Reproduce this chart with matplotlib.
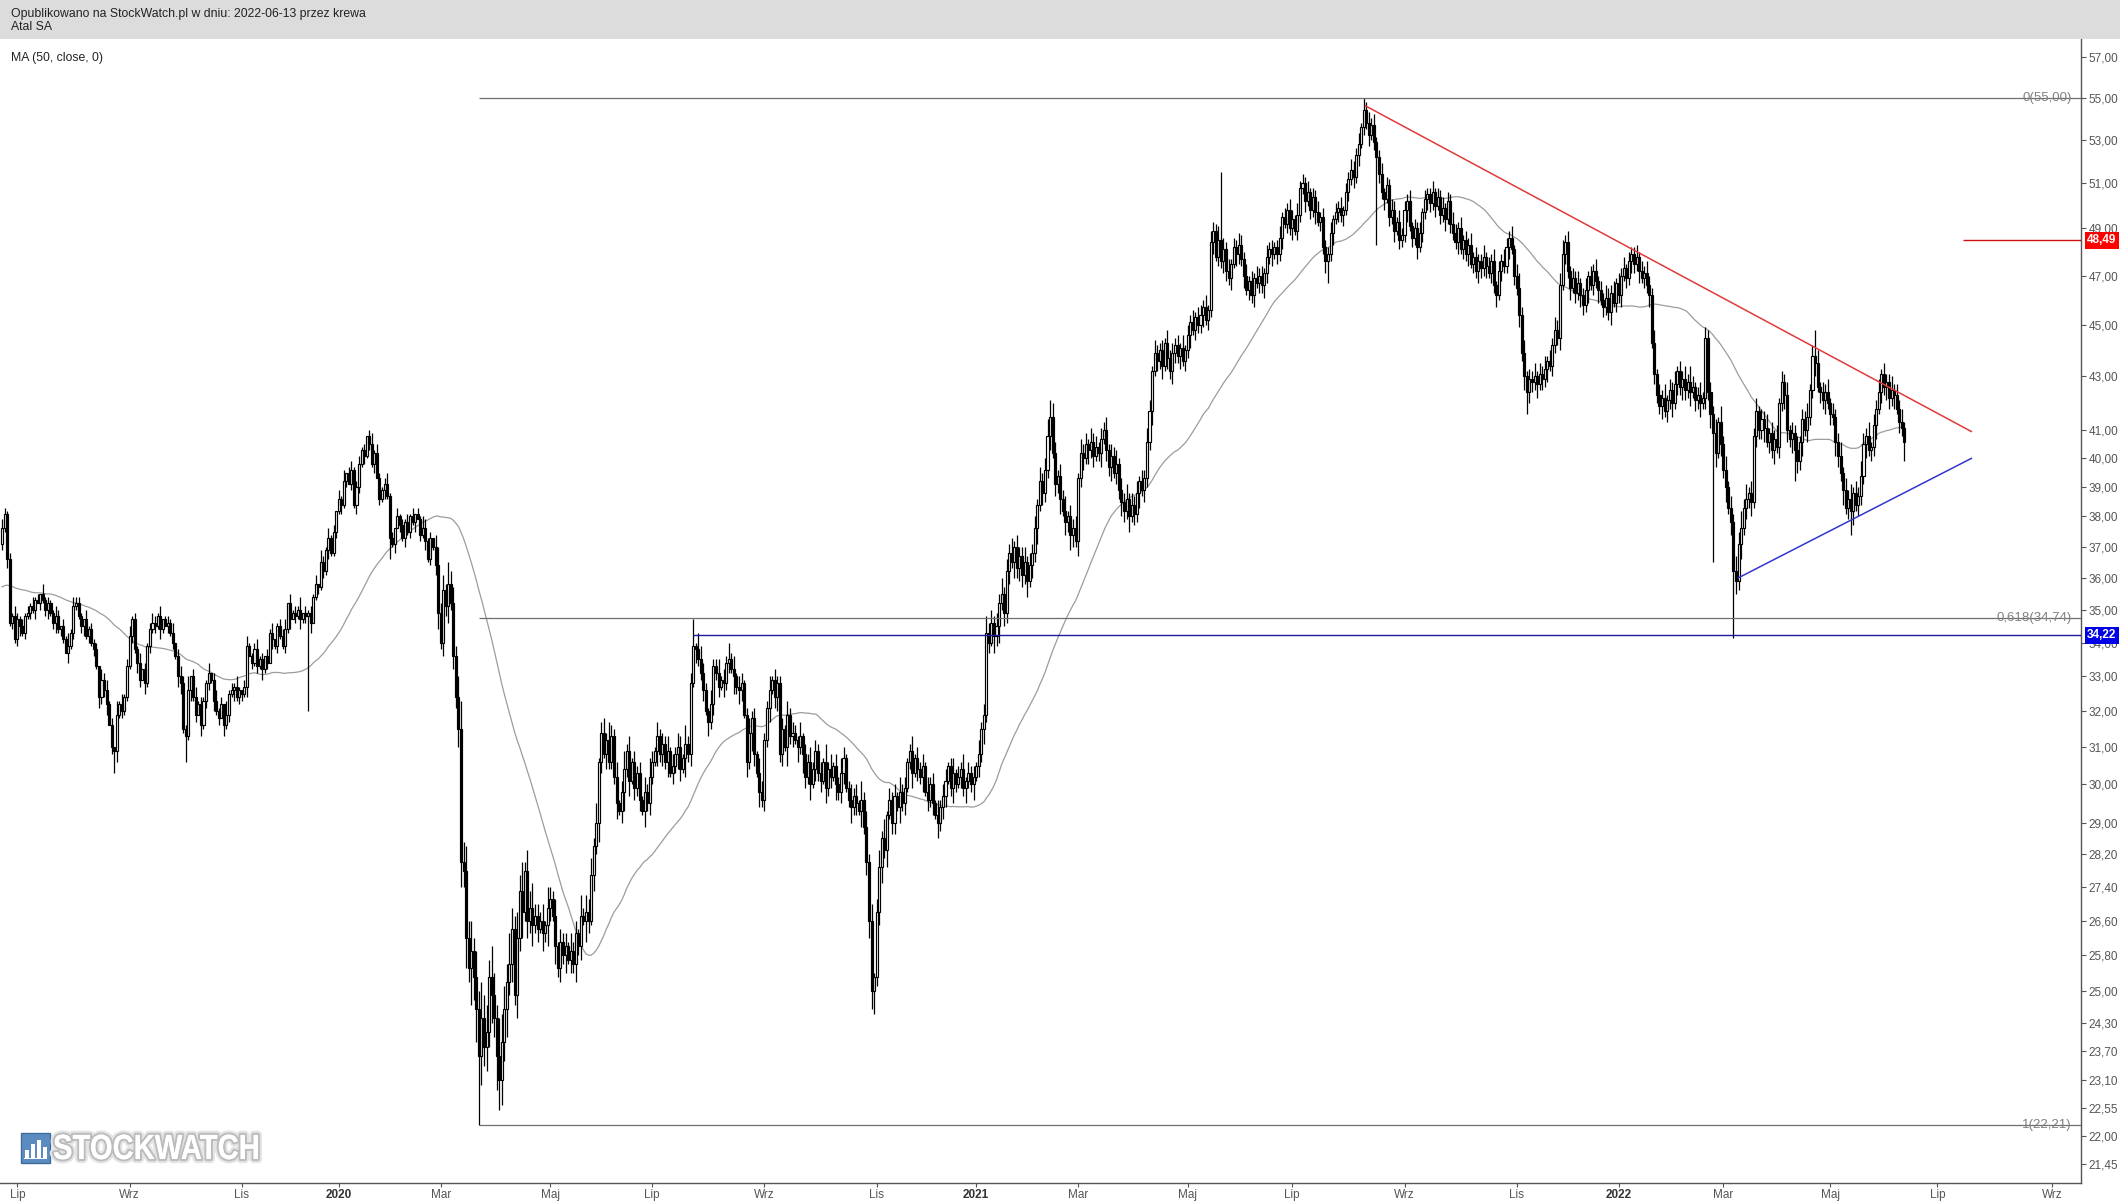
import numpy as np
import pandas as pd
import matplotlib
matplotlib.use("Agg")
import matplotlib.pyplot as plt
import matplotlib.patheffects as pe
from matplotlib.patches import Rectangle, PathPatch
from matplotlib.textpath import TextPath
from matplotlib.font_manager import FontProperties
from matplotlib.transforms import blended_transform_factory, Affine2D, IdentityTransform
from matplotlib.ticker import FixedLocator, FixedFormatter, NullLocator

plt.rcParams['font.family'] = ['Liberation Sans', 'DejaVu Sans']

# Atal SA daily closes, one session per value, 10 per row
closes_txt = """
37.6 38.1 36.6 34.6 34.8 34.1 34.7 34.5 34.3 34.8
34.9 35.1 35.0 35.3 35.2 35.5 35.3 35.0 35.2 34.9
34.6 34.8 34.4 34.5 34.1 33.7 33.9 34.3 35.1 35.2
34.8 34.5 34.7 34.2 34.4 34.0 33.8 33.3 32.4 32.9
32.6 32.2 31.6 31.0 30.9 31.9 32.2 32.0 32.4 33.3
34.2 34.7 33.8 33.4 32.9 33.2 32.8 33.9 34.4 34.6
34.5 34.8 34.4 34.7 34.5 34.6 34.3 34.0 33.6 33.0
32.8 31.5 31.3 32.6 33.0 32.4 31.9 32.2 31.6 32.3
32.8 33.1 32.9 32.3 32.0 31.8 32.2 31.6 31.9 32.5
32.6 32.7 32.4 32.6 32.5 32.7 33.9 33.6 33.4 33.8
33.3 33.5 33.2 33.6 33.4 34.3 34.1 33.9 34.5 34.2
33.9 34.4 35.2 34.7 34.9 34.8 35.0 34.7 34.9 34.8
34.9 34.6 35.4 35.8 35.7 36.5 36.2 36.9 37.3 36.8
37.5 38.2 38.6 38.4 39.2 39.5 39.1 39.6 38.4 39.0
39.8 40.3 40.1 40.8 40.5 39.8 40.2 39.3 38.6 38.9
39.1 38.7 37.3 37.1 37.6 38.0 37.7 37.3 37.8 37.5
38.0 37.8 38.1 37.9 37.4 37.6 37.2 36.6 37.3 37.0
36.4 34.9 34.0 35.6 35.1 35.8 35.2 33.6 32.4 31.5
28.0 27.8 26.2 25.5 25.9 25.3 24.6 23.6 24.4 23.8
24.1 25.3 24.9 24.4 23.6 23.1 23.9 24.6 25.2 25.6
26.4 24.9 26.2 27.3 26.8 27.8 26.6 26.9 26.5 26.7
26.4 26.6 26.3 26.5 26.9 27.1 26.7 26.0 25.5 26.1
25.8 26.0 25.7 25.9 25.6 26.3 26.0 26.7 26.6 26.8
26.6 27.7 28.4 29.0 30.6 31.4 30.8 31.2 30.6 31.3
30.2 29.5 29.3 29.8 30.4 30.9 30.1 30.6 29.9 30.3
29.6 29.3 29.8 29.5 30.2 30.6 30.9 31.3 30.8 31.1
30.6 30.9 30.3 30.5 30.8 31.0 30.4 30.7 31.1 30.8
32.8 33.9 33.8 33.5 33.1 32.6 32.0 31.7 32.2 33.3
33.1 32.7 32.9 32.8 33.4 33.5 33.2 33.0 32.7 32.6
32.8 31.9 30.6 31.4 31.8 30.8 30.3 29.8 29.6 31.2
32.1 32.6 32.9 32.4 32.8 30.8 31.5 31.0 31.9 31.3
31.4 31.2 31.0 31.3 30.8 30.2 30.6 30.0 30.4 30.9
30.3 30.1 30.6 29.9 30.4 30.2 30.5 30.0 29.8 30.3
30.7 29.9 29.6 29.4 29.7 29.5 29.3 29.6 28.9 28.0
26.6 25.0 25.3 26.8 27.9 28.6 28.3 29.2 29.6 29.0
29.7 29.4 29.8 29.5 29.9 30.6 30.9 30.3 30.7 30.4
30.2 30.5 29.8 29.6 30.0 29.5 29.2 29.0 29.4 29.7
30.1 30.5 29.9 30.3 30.0 30.2 30.4 29.9 30.1 30.3
30.0 30.2 30.5 30.8 31.5 31.9 34.3 34.0 34.6 34.2
34.5 35.2 35.5 34.9 36.2 36.8 36.5 37.0 36.3 36.7
36.1 36.5 35.9 36.4 36.8 37.6 38.4 39.2 38.8 39.6
40.8 41.5 40.2 39.1 39.4 38.6 38.2 37.8 38.0 37.4
37.6 37.2 39.3 40.2 40.0 40.5 40.3 40.6 40.1 40.4
40.2 40.7 41.0 40.3 39.7 40.1 39.5 39.8 38.9 38.5
38.2 38.6 38.0 38.4 38.1 38.8 39.2 38.9 39.3 40.6
41.7 43.2 43.9 43.6 44.0 43.4 44.3 43.7 43.2 43.9
44.2 43.8 44.1 43.6 44.0 44.6 45.1 44.8 45.3 45.0
45.4 45.7 45.2 45.6 48.4 48.9 47.8 48.5 47.6 48.1
47.2 46.9 47.5 48.2 47.9 48.3 47.7 47.0 46.4 46.8
46.2 46.9 46.7 47.0 46.6 47.1 47.8 48.1 47.9 48.2
47.9 48.6 49.5 49.2 49.8 49.0 49.4 48.9 49.6 50.8
51.0 50.2 50.6 49.8 50.4 49.7 49.3 49.5 48.2 47.6
47.9 48.8 49.4 49.7 49.9 49.6 49.8 50.6 51.2 51.6
51.3 52.3 52.8 53.6 54.4 53.8 53.2 53.7 52.9 52.2
51.4 50.6 50.3 50.9 49.5 49.8 48.9 49.3 48.5 48.7
49.8 50.2 49.1 48.6 49.0 48.2 48.8 49.7 50.3 50.5
50.1 50.6 50.0 50.4 49.6 49.9 49.4 50.2 49.2 48.8
48.4 49.0 48.1 48.5 47.9 48.3 47.5 47.8 47.2 47.6
47.3 47.8 47.4 47.1 47.6 46.6 46.2 47.2 47.6 47.4
48.2 48.6 48.1 47.0 46.5 45.4 43.9 43.0 42.4 42.9
42.8 43.0 42.7 43.1 42.9 43.3 43.6 43.4 44.2 44.8
44.5 46.6 47.9 48.4 47.2 46.5 46.9 46.3 46.7 46.2
45.8 46.4 47.0 46.6 47.2 46.8 46.4 46.0 45.7 46.1
45.5 46.3 45.9 46.7 46.2 47.0 47.3 46.9 47.6 47.9
47.5 47.8 47.2 46.9 47.1 46.6 46.2 44.3 43.1 42.3
41.9 42.2 41.7 42.1 42.5 42.0 42.7 43.2 42.6 42.9
42.5 42.8 42.4 42.6 42.1 42.3 42.0 42.2 44.5 42.4
41.6 40.9 40.2 41.3 40.5 39.6 39.0 38.3 37.8 36.2
35.9 37.1 37.6 38.3 38.6 38.8 38.5 40.8 41.7 41.0
41.4 41.1 40.6 40.9 40.3 40.7 40.4 42.0 42.8 42.3
41.0 40.7 40.9 40.3 39.9 40.6 41.4 41.0 41.5 42.5
43.8 43.5 42.6 42.4 42.1 42.4 42.0 41.6 41.5 40.6
40.1 39.5 38.9 38.3 38.6 38.2 38.8 38.4 38.7 39.4
40.5 40.8 40.3 40.4 41.2 41.8 42.4 43.1 42.6 42.8
42.2 42.5 42.3 41.8 41.3 41.1 40.6
"""

# 49 sessions before the visible window, only used to start the MA(50)
pre_txt = """
36.2 35.8 35.4 35.9 36.3 36.0 35.6 35.2 35.5 35.9
36.4 36.1 35.7 35.3 35.6 36.0 35.8 35.4 35.1 35.5
35.9 36.2 35.8 36.1 35.7 35.4 35.8 36.3 36.0 35.6
35.9 36.2 35.7 35.5 35.9 35.6 35.2 35.4 35.0 34.8
35.1 34.9 35.3 35.0 34.7 35.2 35.6 36.4 37.1
"""

# wick length above / below the body, in 0.10 zl, one digit per session
up_wick_txt = """
3212132121 2131203121 1320214132 2103121203 2312041312 3121302123 2130121302 3214023121
1302312041 2131023112 3120213012 2303121402 1213042131 2031402312 3120241321 2412031213
1302143120 4635274536 8564736485 6475386547 5364725463 3241532413 2314231524 3425134253
2413524132 3142531423 2413243152 3215432142 2413252413 3124231432 2413223142 3214132423
2315241324 3124231524 2413425132 3142312413 2314231423 3124132413 2314235342 4352435243
3524342534 6354243524 3425342534 2435243524 3524342435 4253342534 3425243524 4352543625
3524354352 4253425342 3524354253 4352435243 3524352435 4352645352 3524354253 4352435243
3524352435 4352435243 3524352435 4352563524 3524352435 4563524352 3524352435 4352435243
3524354352 4352435243 5364235243 4352635243 5463524352 4352435243 5243524352 4352435243
3524352435 4352435243 3524352
"""
dn_wick_txt = """
2131212312 1213021231 2312103121 1231212132 2302131211 1213203121 2131021213 3121312031
2213120312 1312213021 2131203121 1213021312 2301212131 1213120213 2131213021 3121302131
2130213121 3524352435 6473857364 5364735463 4253624352 3142531423 2413242315 3142531422
2413524132 3142321423 2413243152 3142231423 2314231524 3142531423 2413423152 3142532413
2314231423 3124231423 4352342413 3142312413 2413231423 3124213242 2413242315 3524342534
4352435243 3524352435 4253425342 3524352435 4352435243 3524352435 4352435243 3524352435
4352543524 3524354352 4352435243 3524352435 4352435243 5352435243 4352435243 3524352435
4352435243 3524352435 4352435243 3524353524 4352435243 3524352435 4352435243 3524352435
4352435243 3524352435 4352435243 5352435243 4352435243 3524352435 4352435243 3524352435
4352435243 3524352435 4352435
"""

# long shadows that the digit strings cannot hold
high_spikes = {271: 34.7, 411: 42.1, 478: 51.5, 534: 55.0, 668: 44.9, 711: 44.8}
low_spikes = {44: 30.3, 72: 30.6, 120: 32.0, 152: 36.6, 187: 22.21, 195: 22.5,
              341: 24.6, 520: 46.7, 539: 48.3, 598: 41.6, 671: 36.5, 679: 34.15,
              703: 39.2, 725: 37.4, 746: 39.9}

# month labels on the session axis
month_idx = [6, 50, 94, 132, 172, 215, 255, 299, 343, 382, 422, 465, 506, 550,
             594, 634, 675, 717, 759, 804]
month_lbl = ['Lip', 'Wrz', 'Lis', '2020', 'Mar', 'Maj', 'Lip', 'Wrz', 'Lis', '2021',
             'Mar', 'Maj', 'Lip', 'Wrz', 'Lis', '2022', 'Mar', 'Maj', 'Lip', 'Wrz']

y_ticks = [21.45, 22.00, 22.55, 23.10, 23.70, 24.30, 25.00, 25.80, 26.60, 27.40,
           28.20, 29.00, 30.00, 31.00, 32.00, 33.00, 34.00, 35.00, 36.00, 37.00,
           38.00, 39.00, 40.00, 41.00, 43.00, 45.00, 47.00, 49.00, 51.00, 53.00,
           55.00, 57.00]

# drawing objects
fib_high, fib_low, fib_start = 55.00, 22.21, 187
fib_levels = [0, 0.618, 1]
resist_line = [(534.7, 54.6), (772.3, 40.96)]
support_line = [(681.0, 36.0), (772.3, 40.0)]
blue_level, blue_start = 34.22, 271
red_level, red_start = 48.49, 769

closes = np.array(closes_txt.split(), float)
pre = np.array(pre_txt.split(), float)
n = len(closes)
x = np.arange(n)
opens = np.r_[pre[-1], closes[:-1]]

up_w = np.array([int(c) for c in up_wick_txt if c.isdigit()][:n]) * 0.1
dn_w = np.array([int(c) for c in dn_wick_txt if c.isdigit()][:n]) * 0.1
up_w = np.pad(up_w, (0, n - len(up_w)))
dn_w = np.pad(dn_w, (0, n - len(dn_w)))
highs = np.maximum(opens, closes) + up_w
lows = np.minimum(opens, closes) - dn_w
for k, v in high_spikes.items():
    highs[k] = max(highs[k], v)
for k, v in low_spikes.items():
    lows[k] = min(lows[k], v)

ma = pd.Series(np.r_[pre, closes]).rolling(50).mean().to_numpy()[len(pre):]

W, H = 2120, 1202
fig = plt.figure(figsize=(W / 100, H / 100), dpi=100)
fig.patch.set_facecolor('white')


def fx(px):
    return px / W


def fy(py):
    return 1 - py / H


# header band
fig.patches.append(Rectangle((0, fy(39)), 1, 39 / H, transform=fig.transFigure,
                             facecolor='#dcdcdc', edgecolor='none', zorder=0))
fig.text(fx(11), fy(13.5), 'Opublikowano na StockWatch.pl w dniu: 2022-06-13 przez krewa',
         fontsize=8.8, color='#222222', va='center')
fig.text(fx(11), fy(27.5), 'Atal SA', fontsize=8.8, color='#222222', va='center')

ax = fig.add_axes([0, fy(1183), fx(2081), (1183 - 39) / H])
ax.set_facecolor('white')
x_lo, x_hi = -0.8, 815.3
ax.set_xlim(x_lo, x_hi)
ax.set_yscale('log')
ax.set_ylim(21.1, 57.92)

# MA(50)
ax.plot(x, ma, color='#9c9c9c', lw=0.9, zorder=2)

# candles
ax.vlines(x, lows, highs, color='black', lw=0.9, zorder=3)
rise = closes >= opens
ax.bar(x[rise], (closes - opens)[rise], bottom=opens[rise], width=0.8,
       facecolor='white', edgecolor='black', linewidth=0.85, zorder=4)
ax.bar(x[~rise], (opens - closes)[~rise], bottom=closes[~rise], width=0.8,
       facecolor='black', edgecolor='black', linewidth=0.85, zorder=4)

# fibonacci levels
for lvl in fib_levels:
    p = fib_high - lvl * (fib_high - fib_low)
    ax.hlines(p, fib_start, x_hi, color='#6f6f6f', lw=0.9, zorder=5)
    lab = f"{lvl:g}({p:.2f})".replace('.', ',')
    ax.text(x_hi - 3.5, p, lab, ha='right', va='center', fontsize=9.5,
            color='#808080', zorder=6)

# horizontal levels and trend lines
ax.hlines(blue_level, blue_start, x_hi, color='#1a1a9a', lw=1.0, zorder=5)
ax.hlines(red_level, red_start, x_hi, color='#d01010', lw=1.0, zorder=5)
ax.plot(*zip(*resist_line), color='#e03a3a', lw=1.1, zorder=5)
ax.plot(*zip(*support_line), color='#3434d0', lw=1.1, zorder=5)

# axes styling
for s in ['left', 'top']:
    ax.spines[s].set_visible(False)
for s in ['right', 'bottom']:
    ax.spines[s].set_color('#555555')
    ax.spines[s].set_linewidth(1.0)
ax.yaxis.tick_right()
ax.yaxis.set_major_locator(FixedLocator(y_ticks))
ax.yaxis.set_major_formatter(FixedFormatter([f"{v:.2f}".replace('.', ',') for v in y_ticks]))
ax.yaxis.set_minor_locator(NullLocator())
ax.tick_params(axis='y', which='major', direction='out', length=3.5, width=0.8,
               color='#555555', labelsize=8.5, labelcolor='#555555', pad=2)
ax.set_xticks(month_idx)
ax.set_xticklabels(month_lbl)
ax.tick_params(axis='x', direction='out', length=3, width=0.8, color='#555555',
               labelsize=8.5, labelcolor='#555555', pad=1)
for t in ax.get_xticklabels():
    if t.get_text().isdigit():
        t.set_fontweight('bold')
        t.set_color('#333333')

# price boxes on the scale
tr = blended_transform_factory(ax.transAxes, ax.transData)
ax.text(1.003, red_level, '48,49', transform=tr, ha='left', va='center', fontsize=8.5,
        color='white', fontweight='bold', clip_on=False, zorder=10,
        bbox=dict(boxstyle='square,pad=0.22', facecolor='#ff0000', edgecolor='none'))
ax.text(1.003, blue_level, '34,22', transform=tr, ha='left', va='center', fontsize=8.5,
        color='white', fontweight='bold', clip_on=False, zorder=10,
        bbox=dict(boxstyle='square,pad=0.22', facecolor='#0000e6', edgecolor='none'))

fig.text(fx(11), fy(57.5), 'MA (50, close, 0)', fontsize=8.8, color='#222222', va='center')

# watermark logo
fig.patches.append(Rectangle((fx(21), fy(1163)), 29 / W, 30 / H, transform=fig.transFigure,
                             facecolor='#5a8cc0', edgecolor='#3d6d9c', lw=1.0, zorder=20))
for bx, bh in zip([25, 31, 37, 43], [8, 14, 18, 11]):
    fig.patches.append(Rectangle((fx(bx), fy(1158)), 3.5 / W, bh / H,
                                 transform=fig.transFigure, facecolor='white',
                                 edgecolor='none', zorder=21))
fig.patches.append(Rectangle((fx(24), fy(1159)), 23 / W, 1.2 / H, transform=fig.transFigure,
                             facecolor='white', edgecolor='none', zorder=21))

# condensed bold wordmark, squeezed horizontally in pixel space
tp = TextPath((0, 0), 'STOCKWATCH', size=35,
              prop=FontProperties(family='Liberation Sans', weight='bold'))
tw = tp.get_extents().width
sx = 204 / tw
logo_tr = Affine2D().scale(sx, 1.0).translate(53, H - 1159) + IdentityTransform()
logo = PathPatch(tp, transform=logo_tr, facecolor='white', edgecolor='none', zorder=22,
                 path_effects=[pe.withStroke(linewidth=6, foreground='#e4e4e4', joinstyle='round'),
                               pe.withStroke(linewidth=3, foreground='#bcbcbc', joinstyle='round'),
                               pe.Normal()])
fig.patches.append(logo)

fig.savefig('out.png', dpi=100, facecolor='white')
